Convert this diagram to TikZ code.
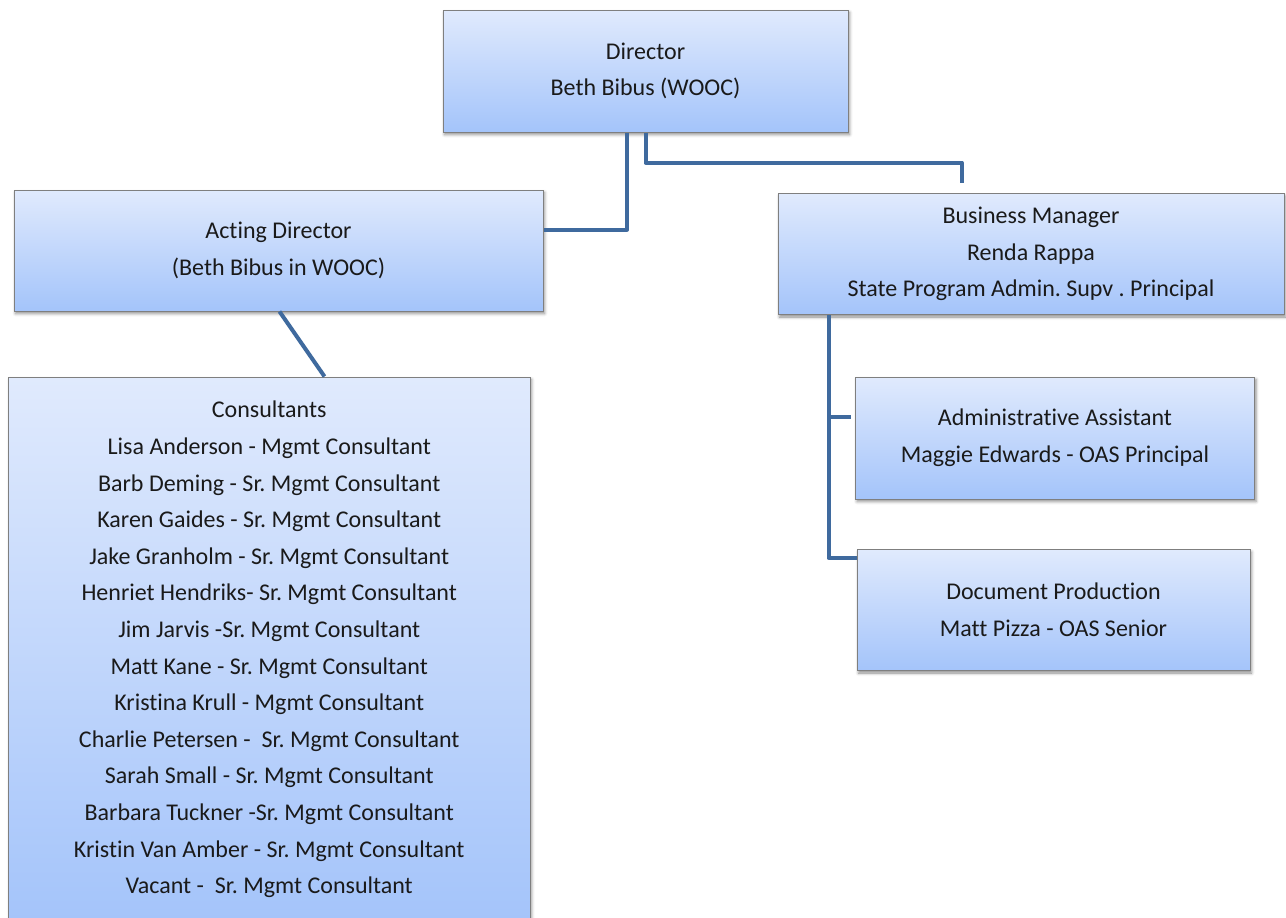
\documentclass[tikz,border=0pt]{standalone}
\usepackage{fontspec}
\setmainfont{Carlito}[Ligatures=NoCommon]
\usetikzlibrary{calc,shadows.blur}

\definecolor{boxtop}{HTML}{E0EAFD}
\definecolor{boxbottom}{HTML}{A4C4FA}
\definecolor{boxline}{HTML}{7F7F7F}
\definecolor{linkblue}{HTML}{3F6A9E}
\definecolor{inktext}{HTML}{1A1A1A}

\tikzset{
  orgbox/.style={
    rectangle, draw=boxline, line width=1pt,
    top color=boxtop, bottom color=boxbottom,
    blur shadow={shadow xshift=1.5pt, shadow yshift=-2.5pt,
                 shadow blur radius=3pt, shadow opacity=45},
    align=center, text=inktext, inner sep=0pt,
    font=\fontsize{24}{36.6}\selectfont\frenchspacing
  },
  link/.style={draw=linkblue, line width=4pt, line join=round}
}

\begin{document}
\begin{tikzpicture}[x=1pt,y=-1pt]
  \useasboundingbox (0,0) rectangle (1286,918);

  % boxes
  \node[orgbox, minimum width=405, minimum height=122] (dir) at (645.5,71)
    {Director\\Beth Bibus (WOOC)};
  \node[orgbox, minimum width=529, minimum height=121] (act) at (278.5,250.5)
    {Acting Director\\(Beth Bibus in WOOC)};
  \node[orgbox, minimum width=506, minimum height=121] (bm) at (1031,254)
    {Business Manager\\Renda Rappa\\State Program Admin. Supv . Principal};
  \node[orgbox, minimum width=399, minimum height=122] (adm) at (1055,438)
    {Administrative Assistant\\Maggie Edwards - OAS Principal};
  \node[orgbox, minimum width=393, minimum height=121] (doc) at (1053.5,610)
    {Document Production\\Matt Pizza - OAS Senior};
  \node[orgbox, minimum width=521.5, minimum height=545] (cons) at (269.25,649.5)
    {Consultants\\
     Lisa Anderson - Mgmt Consultant\\
     Barb Deming - Sr. Mgmt Consultant\\
     Karen Gaides - Sr. Mgmt Consultant\\
     Jake Granholm - Sr. Mgmt Consultant\\
     Henriet Hendriks- Sr. Mgmt Consultant\\
     Jim Jarvis -Sr. Mgmt Consultant\\
     Matt Kane - Sr. Mgmt Consultant\\
     Kristina Krull - Mgmt Consultant\\
     Charlie Petersen -~~Sr. Mgmt Consultant\\
     Sarah Small - Sr. Mgmt Consultant\\
     Barbara Tuckner -Sr. Mgmt Consultant\\
     Kristin Van Amber - Sr. Mgmt Consultant\\
     Vacant -~~Sr. Mgmt Consultant};

  % connector end points
  \coordinate (actjoin) at ($(act.north east)+(0,40)$);
  \coordinate (bmend) at ($(bm.north west)+(184,-10)$);
  \coordinate (bmtrunk) at ($(bm.south west)+(51,0)$);
  \coordinate (admjoin) at ($(adm.north west)+(-4,40)$);
  \coordinate (docjoin) at ($(doc.north west)+(0,9)$);

  % connectors
  \draw[link] ($(dir.south)+(-18.5,0)$) |- (actjoin);
  \draw[link] (dir.south) -- ++(0,30) -| (bmend);
  \draw[link] ($(act.south west)+(266,0)$) -- ($(cons.north west)+(316.5,0)$);
  \draw[link] (bmtrunk) |- (docjoin);
  \draw[link] (bmtrunk |- admjoin) -- (admjoin);
\end{tikzpicture}
\end{document}
